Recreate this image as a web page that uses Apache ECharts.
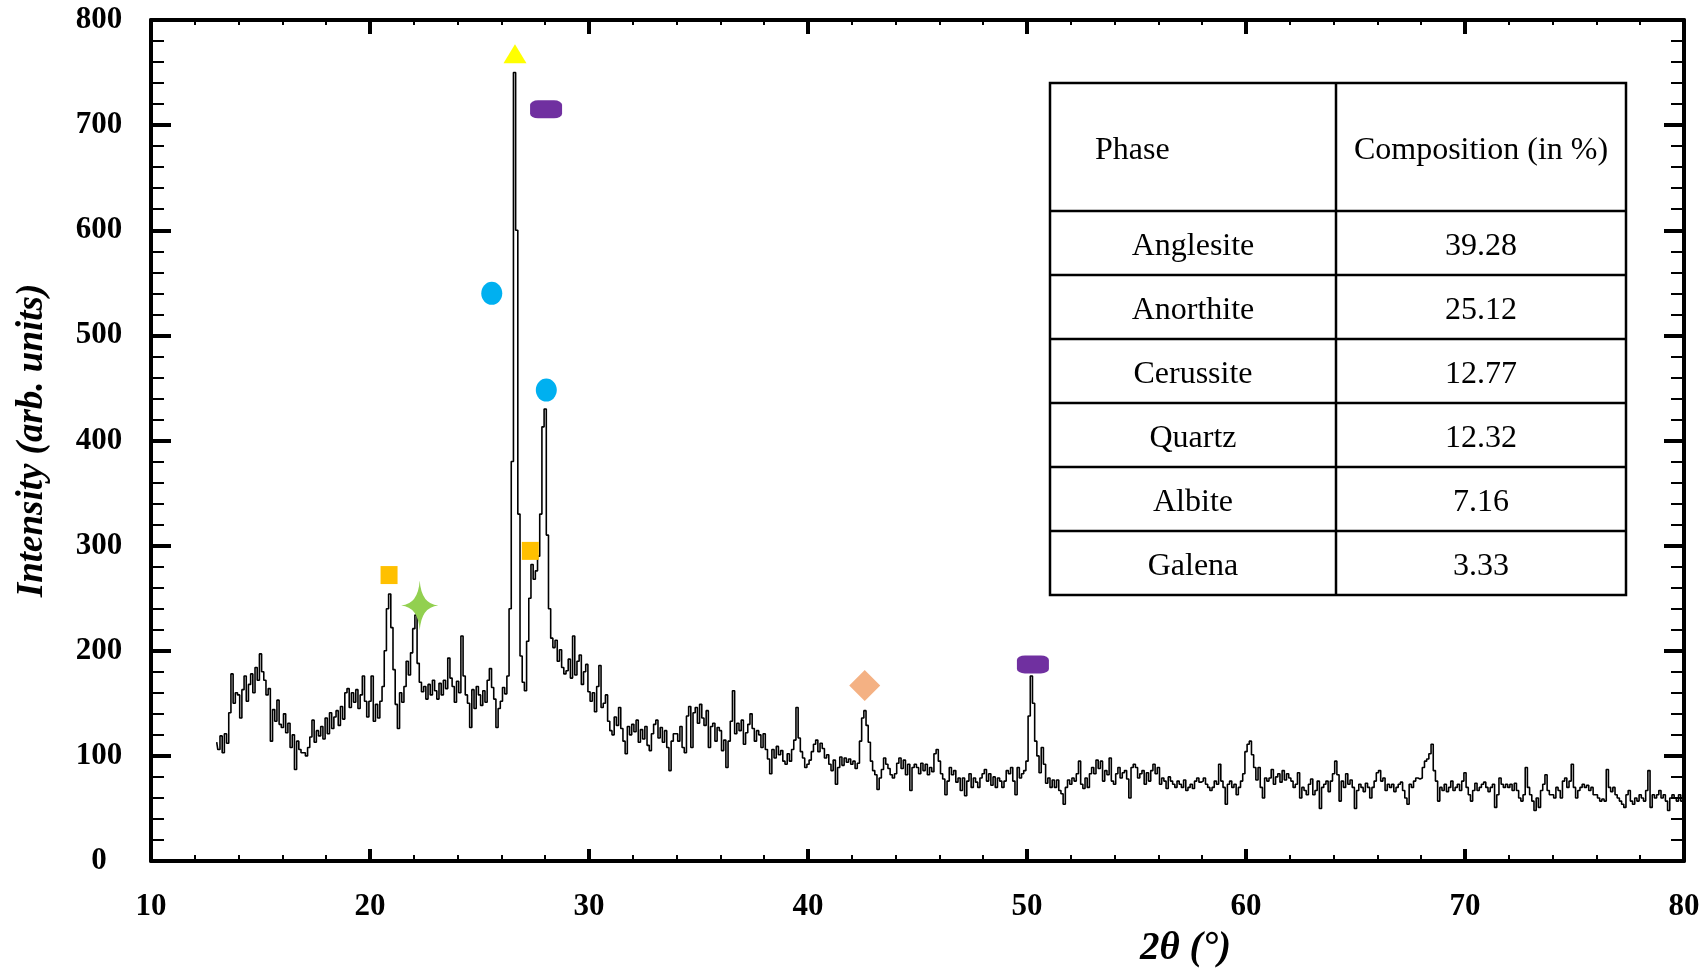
<!DOCTYPE html>
<html>
<head>
<meta charset="utf-8">
<script src="https://cdn.jsdelivr.net/npm/echarts@6/dist/echarts.min.js"></script>
<style>
  html, body { margin: 0; padding: 0; background: #fff; }
  #main { width: 1704px; height: 968px; }
</style>
</head>
<body>
<div id="main"></div>
<script>
// XRD scan, sampled every 0.1 deg from 13.0 deg
var twoThetaStart = 13.0
var twoThetaStep = 0.1

var intensity13to19 = [
  113, 106, 119, 103, 121, 112, 141, 178, 150, 160,
  158, 136, 163, 176, 152, 168, 178, 160, 184, 172,
  197, 180, 172, 158, 164, 114, 144, 133, 153, 130,
  127, 140, 122, 131, 108, 120, 87, 114, 106, 103,
  103, 100, 108, 118, 134, 113, 124, 119, 128, 116,
  136, 121, 141, 126, 137, 143, 129, 147, 135, 160,
  164, 146, 160, 151, 163, 145, 158, 176, 152, 137
]
var intensity20to29 = [
  152, 176, 133, 149, 136, 152, 166, 200, 240, 254,
  222, 182, 149, 126, 160, 151, 166, 190, 177, 198,
  221, 234, 188, 170, 161, 166, 154, 168, 158, 172,
  162, 154, 169, 158, 172, 164, 193, 174, 166, 151,
  171, 160, 214, 176, 158, 150, 127, 163, 145, 166,
  158, 148, 162, 151, 172, 183, 165, 154, 127, 145,
  152, 165, 159, 176, 240, 380, 750, 600, 330, 195,
  170, 162, 209, 250, 282, 268, 276, 290, 330, 413,
  430, 310, 240, 212, 203, 210, 190, 201, 184, 178,
  181, 192, 174, 214, 177, 190, 196, 168, 180, 187
]
var intensity30to39 = [
  161, 152, 160, 142, 166, 186, 146, 150, 158, 133,
  124, 120, 137, 129, 146, 126, 114, 102, 128, 120,
  130, 123, 134, 113, 125, 116, 128, 110, 105, 121,
  130, 134, 117, 127, 113, 124, 108, 86, 114, 121,
  121, 114, 128, 108, 103, 138, 147, 108, 141, 146,
  131, 149, 136, 129, 143, 108, 128, 131, 114, 127,
  124, 105, 115, 89, 114, 133, 162, 121, 131, 124,
  134, 111, 122, 130, 140, 126, 114, 124, 120, 108,
  121, 106, 97, 83, 106, 98, 109, 101, 105, 95,
  92, 102, 95, 106, 115, 146, 117, 104, 98, 89
]
var intensity40to49 = [
  92, 96, 104, 111, 115, 104, 112, 107, 98, 101,
  92, 86, 96, 73, 89, 99, 91, 98, 94, 97,
  92, 95, 88, 93, 114, 136, 143, 129, 113, 95,
  86, 82, 68, 79, 87, 98, 92, 88, 82, 79,
  83, 93, 98, 88, 96, 82, 92, 67, 89, 92,
  89, 83, 93, 86, 92, 82, 89, 85, 102, 106,
  95, 83, 78, 63, 76, 89, 82, 86, 75, 79,
  67, 79, 62, 76, 83, 70, 79, 75, 70, 79,
  83, 87, 76, 83, 72, 80, 70, 79, 76, 70,
  76, 86, 83, 89, 76, 63, 89, 79, 83, 86
]
var intensity50to59 = [
  95, 138, 176, 150, 114, 100, 84, 108, 92, 74,
  79, 70, 77, 70, 77, 67, 64, 54, 70, 77,
  73, 79, 76, 83, 95, 73, 69, 79, 70, 83,
  89, 83, 96, 88, 95, 76, 86, 82, 98, 76,
  73, 83, 89, 79, 84, 86, 78, 60, 89, 92,
  89, 79, 83, 86, 73, 84, 76, 86, 92, 83,
  89, 73, 79, 76, 69, 80, 76, 73, 70, 76,
  73, 70, 77, 67, 70, 73, 69, 76, 79, 75,
  76, 79, 73, 70, 67, 70, 76, 73, 92, 76,
  70, 54, 73, 76, 70, 73, 63, 70, 76, 83
]
var intensity60to69 = [
  104, 111, 114, 101, 89, 77, 89, 70, 60, 79,
  76, 79, 87, 73, 80, 83, 75, 86, 77, 83,
  79, 76, 70, 73, 84, 60, 70, 67, 63, 73,
  78, 63, 67, 76, 50, 70, 73, 76, 66, 76,
  83, 95, 82, 57, 76, 70, 83, 73, 77, 70,
  50, 67, 73, 70, 66, 74, 70, 60, 70, 76,
  84, 86, 76, 79, 67, 73, 70, 73, 66, 70,
  73, 75, 67, 60, 54, 73, 70, 76, 79, 78,
  79, 89, 95, 97, 102, 111, 86, 76, 57, 70,
  67, 73, 66, 70, 76, 67, 70, 73, 67, 76
]
var intensity70to80 = [
  84, 70, 63, 57, 67, 74, 67, 70, 73, 75,
  70, 66, 70, 73, 51, 63, 79, 73, 70, 73,
  70, 73, 67, 74, 67, 60, 57, 63, 89, 70,
  63, 57, 48, 60, 51, 67, 73, 82, 67, 63,
  63, 60, 70, 67, 60, 76, 79, 70, 76, 92,
  70, 60, 67, 70, 73, 70, 72, 67, 70, 63,
  63, 60, 57, 59, 57, 87, 70, 66, 70, 63,
  60, 57, 54, 51, 63, 67, 57, 54, 60, 57,
  63, 60, 57, 67, 86, 51, 63, 60, 63, 67,
  60, 63, 57, 48, 60, 63, 60, 57, 63, 57,
  62
]

// phase markers above the peaks
var markTheta = [26.62, 28.04, 25.56, 28.05, 20.87, 27.32, 22.27, 42.59, 50.27]
var markIntensity = [768, 715, 540, 448, 272, 295, 243, 167, 187]
var markKind = ['triangle', 'bar', 'dot', 'dot', 'square', 'square', 'star', 'diamond', 'bar']

// inset table
var tableHeader = ['Phase', 'Composition (in %)']
var phaseNames = ['Anglesite', 'Anorthite', 'Cerussite', 'Quartz', 'Albite', 'Galena']
var phaseShares = ['39.28', '25.12', '12.77', '12.32', '7.16', '3.33']

var xTicks = [10, 80, 10]
var yTicks = [0, 800, 100]

var serif = "'Liberation Serif', 'Times New Roman', serif"

var markStyles = {
  triangle: { symbol: 'triangle', size: [23, 19], color: '#FFFF00' },
  bar: { symbol: 'roundRect', size: [32, 18], color: '#7030A0' },
  dot: { symbol: 'path://M0,10 A10,10 0 1,1 20,10 A10,10 0 1,1 0,10 Z', size: [21, 23], color: '#00B0F0' },
  square: { symbol: 'rect', size: [17, 18], color: '#FFC000' },
  star: { symbol: 'path://M0,-25 Q1.5,-1.5 18,0 Q1.5,1.5 0,25 Q-1.5,1.5 -18,0 Q-1.5,-1.5 0,-25 Z', size: [37, 50], color: '#92D050' },
  diamond: { symbol: 'diamond', size: [31, 31], color: '#F4B183' }
}

var intensity = [].concat(intensity13to19, intensity20to29, intensity30to39,
  intensity40to49, intensity50to59, intensity60to69, intensity70to80)

var scan = intensity.map(function (v, i) {
  return [+(twoThetaStart + i * twoThetaStep).toFixed(2), v]
})

var marks = markTheta.map(function (t, i) {
  var st = markStyles[markKind[i]]
  return {
    value: [t, markIntensity[i]],
    symbol: st.symbol,
    symbolSize: st.size,
    itemStyle: { color: st.color, opacity: 1 }
  }
})

// table drawn with graphic elements
var tb = { left: 1050, right: 1626, top: 83, headBottom: 211, rowH: 64, split: 1336 }
var tableEls = []
var tableBottom = tb.headBottom + tb.rowH * phaseNames.length
tableEls.push({
  type: 'rect',
  shape: { x: tb.left, y: tb.top, width: tb.right - tb.left, height: tableBottom - tb.top },
  style: { fill: '#fff', stroke: '#000', lineWidth: 2.5 },
  z: 10
})
tableEls.push({
  type: 'line',
  shape: { x1: tb.split, y1: tb.top, x2: tb.split, y2: tableBottom },
  style: { stroke: '#000', lineWidth: 2.5 },
  z: 11
})
for (var r = 0; r < phaseNames.length; r++) {
  var yb = tb.headBottom + tb.rowH * r
  tableEls.push({
    type: 'line',
    shape: { x1: tb.left, y1: yb, x2: tb.right, y2: yb },
    style: { stroke: '#000', lineWidth: 2.5 },
    z: 11
  })
}
function cellText(txt, x, y, align) {
  return {
    type: 'text',
    x: x,
    y: y,
    z: 12,
    style: {
      text: txt,
      fill: '#000',
      font: '32px ' + serif,
      align: align, textAlign: align,
      verticalAlign: 'middle', textVerticalAlign: 'middle'
    }
  }
}
var col1 = (tb.left + tb.split) / 2
var col2 = (tb.split + tb.right) / 2
var headMid = (tb.top + tb.headBottom) / 2 + 4
tableEls.push(cellText(tableHeader[0], tb.left + 45, headMid, 'left'))
tableEls.push(cellText(tableHeader[1], col2, headMid, 'center'))
phaseNames.forEach(function (p, i) {
  var yc = tb.headBottom + tb.rowH * i + tb.rowH / 2 + 4
  tableEls.push(cellText(p, col1, yc, 'center'))
  tableEls.push(cellText(phaseShares[i], col2, yc, 'center'))
})

var myChart = echarts.init(document.getElementById('main'))

function xAxisOf(pos, showLabel) {
  return {
    type: 'value',
    position: pos,
    min: xTicks[0],
    max: xTicks[1],
    interval: xTicks[2],
    name: showLabel ? '2\u03b8 (\u00b0)' : '',
    nameLocation: 'middle',
    nameGap: 68,
    nameTextStyle: {
      fontFamily: serif, fontSize: 39, fontStyle: 'italic', fontWeight: 'bold',
      color: '#000', padding: [0, 0, 0, 536]
    },
    axisLine: { show: true, onZero: false, lineStyle: { color: '#000', width: 4 } },
    axisTick: { show: true, inside: true, length: pos === 'top' ? 14 : 12, lineStyle: { color: '#000', width: 4 } },
    minorTick: { show: true, splitNumber: 5, length: pos === 'top' ? 5 : 6, lineStyle: { color: '#000', width: 2 } },
    axisLabel: {
      show: showLabel, margin: 30, color: '#000',
      fontFamily: serif, fontSize: 31, fontWeight: 'bold'
    },
    splitLine: { show: false }
  }
}

function yAxisOf(pos, showLabel) {
  return {
    type: 'value',
    position: pos,
    min: yTicks[0],
    max: yTicks[1],
    interval: yTicks[2],
    name: showLabel ? 'Intensity (arb. units)' : '',
    nameLocation: 'middle',
    nameGap: 100,
    nameTextStyle: {
      fontFamily: serif, fontSize: 37, fontStyle: 'italic', fontWeight: 'bold', color: '#000'
    },
    axisLine: { show: true, onZero: false, lineStyle: { color: '#000', width: 4 } },
    axisTick: { show: true, inside: true, length: 20, lineStyle: { color: '#000', width: 4 } },
    minorTick: { show: true, splitNumber: 5, length: 13, lineStyle: { color: '#000', width: 2 } },
    axisLabel: {
      show: showLabel, margin: 52, align: 'center', color: '#000',
      fontFamily: serif, fontSize: 31, fontWeight: 'bold'
    },
    splitLine: { show: false }
  }
}

var option = {
  animation: false,
  backgroundColor: '#fff',
  grid: { left: 151, right: 20, top: 20, bottom: 107, containLabel: false, outerBoundsMode: 'none' },
  xAxis: [xAxisOf('bottom', true), xAxisOf('top', false)],
  yAxis: [yAxisOf('left', true), yAxisOf('right', false)],
  series: [
    {
      type: 'line',
      data: scan,
      xAxisIndex: 0,
      yAxisIndex: 0,
      step: 'middle',
      showSymbol: false,
      lineStyle: { color: '#000', width: 1.6 },
      z: 2
    },
    {
      type: 'scatter',
      data: marks,
      xAxisIndex: 0,
      yAxisIndex: 0,
      z: 3
    }
  ],
  graphic: tableEls
}

myChart.setOption(option)
window.onresize = function () {
  myChart.resize()
}
</script>
</body>
</html>
